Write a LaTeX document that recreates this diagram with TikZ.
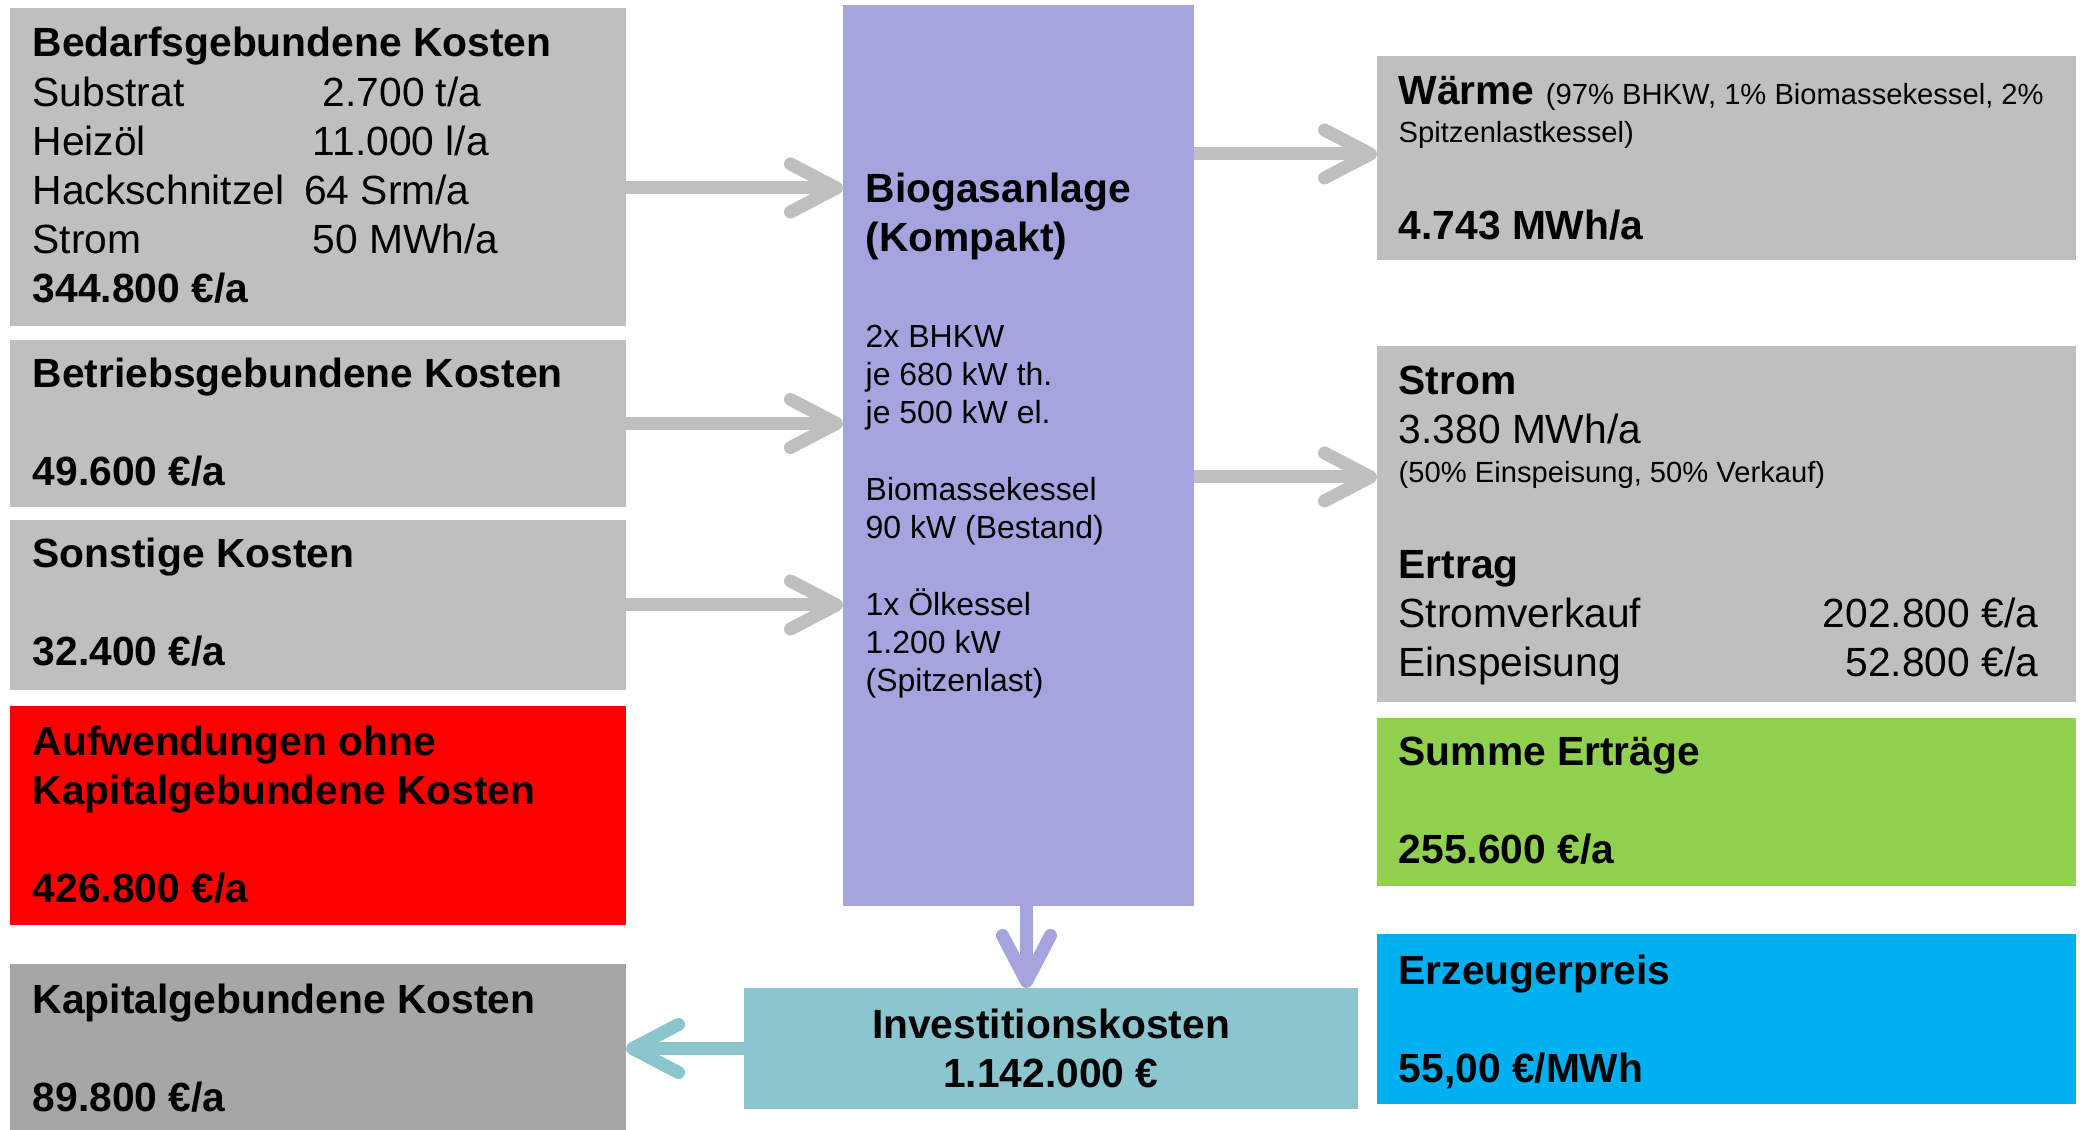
\documentclass[tikz,border=0pt]{standalone}
\usepackage{fontspec}
\setmainfont{Liberation Sans}
\usetikzlibrary{arrows.meta}

\definecolor{boxgray}{RGB}{191,191,191}
\definecolor{capgray}{RGB}{166,166,166}
\definecolor{biolila}{RGB}{164,164,222}
\definecolor{invteal}{RGB}{139,198,206}
\definecolor{sumgreen}{RGB}{146,208,80}
\definecolor{pricecyan}{RGB}{0,176,240}
\newcommand\mainsize{\fontsize{11.6}{14}\selectfont}
\newcommand\detailsize{\fontsize{9.1}{10.9}\selectfont}
\newcommand\notesize{\fontsize{8.3}{10.8}\selectfont}

\begin{document}
\begin{tikzpicture}
	[box/.style={rectangle,inner sep=0pt,outer sep=0pt,anchor=north west},
	txt/.style={inner sep=0pt,anchor=base west,align=left,font=\mainsize},
	flow/.style={line width=1.3mm,draw=boxgray,-{Straight Barb[length=4.6mm,width=4.8mm,round]}}]
	\useasboundingbox (0,0) rectangle (20.8,-11.3);
	% cost boxes on the left (text nodes sit on their last baseline)
	\node (bedarf) [box,fill=boxgray,minimum width=6.16cm,minimum height=3.18cm] at (0.10,-0.08) {};
	\node (betrieb) [box,fill=boxgray,minimum width=6.16cm,minimum height=1.67cm] at (0.10,-3.40) {};
	\node (sonstige) [box,fill=boxgray,minimum width=6.16cm,minimum height=1.70cm] at (0.10,-5.20) {};
	\node (aufwand) [box,fill=red,minimum width=6.16cm,minimum height=2.19cm] at (0.10,-7.06) {};
	\node (kapital) [box,fill=capgray,minimum width=6.16cm,minimum height=1.66cm] at (0.10,-9.64) {};
	\node (bedarf-t) [txt] at (0.32,-3.03) {\textbf{Bedarfsgebundene Kosten}\\
		\makebox[2.90cm][l]{Substrat}2.700 t/a\\
		\makebox[2.80cm][l]{Heizöl}11.000 l/a\\
		Hackschnitzel\hspace{0.2cm}64 Srm/a\\
		\makebox[2.80cm][l]{Strom}50 MWh/a\\
		\textbf{344.800 €/a}};
	\node (betrieb-t) [txt,font=\mainsize\bfseries] at (0.32,-4.86) {Betriebsgebundene Kosten\\[14pt]49.600 €/a};
	\node (sonstige-t) [txt,font=\mainsize\bfseries] at (0.32,-6.66) {Sonstige Kosten\\[14pt]32.400 €/a};
	\node (aufwand-t) [txt,font=\mainsize\bfseries] at (0.32,-9.03) {Aufwendungen ohne\\Kapitalgebundene Kosten\\[14pt]426.800 €/a};
	\node (kapital-t) [txt,font=\mainsize\bfseries] at (0.32,-11.12) {Kapitalgebundene Kosten\\[14pt]89.800 €/a};
	% plant in the middle
	\node (bio) [box,fill=biolila,minimum width=3.51cm,minimum height=9.01cm] at (8.43,-0.05) {};
	\node (bio-t) [txt,font=\mainsize\bfseries] at (8.65,-2.52) {Biogasanlage\\(Kompakt)};
	\node (bio-d) [txt,font=\detailsize] at (8.65,-6.92) {2x BHKW\\je 680 kW th.\\je 500 kW el.\\[10.9pt]
		Biomassekessel\\90 kW (Bestand)\\[10.9pt]1x Ölkessel\\1.200 kW\\(Spitzenlast)};
	\node (invest) [box,fill=invteal,minimum width=6.14cm,minimum height=1.21cm,align=center,font=\mainsize\bfseries] at (7.44,-9.88) {Investitionskosten\\1.142.000 €};
	% results on the right
	\node (waerme) [box,fill=boxgray,minimum width=6.99cm,minimum height=2.04cm] at (13.77,-0.56) {};
	\node (strom) [box,fill=boxgray,minimum width=6.99cm,minimum height=3.56cm] at (13.77,-3.46) {};
	\node (summe) [box,fill=sumgreen,minimum width=6.99cm,minimum height=1.68cm] at (13.77,-7.18) {};
	\node (preis) [box,fill=pricecyan,minimum width=6.99cm,minimum height=1.70cm] at (13.77,-9.34) {};
	\node (waerme-t) [txt] at (13.98,-1.05) {\textbf{Wärme} {\notesize(97\% BHKW, 1\% Biomassekessel, 2\%}};
	\node (waerme-n) [txt,font=\notesize] at (13.98,-1.43) {Spitzenlastkessel)};
	\node (waerme-v) [txt,font=\mainsize\bfseries] at (13.98,-2.40) {4.743 MWh/a};
	\node (strom-t) [txt] at (13.98,-4.44) {\textbf{Strom}\\3.380 MWh/a};
	\node (strom-n) [txt,font=\notesize] at (13.98,-4.83) {(50\% Einspeisung, 50\% Verkauf)};
	\node (ertrag-t) [txt] at (13.98,-6.77) {\textbf{Ertrag}\\Stromverkauf\\Einspeisung};
	\node (ertrag-v) [txt,anchor=base east,align=right] at (20.39,-6.77) {202.800 €/a\\52.800 €/a};
	\node (summe-t) [txt,font=\mainsize\bfseries] at (13.98,-8.64) {Summe Erträge\\[14pt]255.600 €/a};
	\node (preis-t) [txt,font=\mainsize\bfseries] at (13.98,-10.83) {Erzeugerpreis\\[14pt]55,00 €/MWh};
	% arrows
	\draw [flow] ([yshift=-2.1mm]bedarf.east) -- ([yshift=-2.1mm]bedarf.east -| bio.west);
	\draw [flow] (betrieb.east) -- (betrieb.east -| bio.west);
	\draw [flow] (sonstige.east) -- (sonstige.east -| bio.west);
	\draw [flow] ([yshift=0.4mm]waerme.west -| bio.east) -- ([yshift=0.4mm]waerme.west);
	\draw [flow] ([yshift=4.7mm]strom.west -| bio.east) -- ([yshift=4.7mm]strom.west);
	\draw [flow,draw=biolila] ([xshift=0.8mm]bio.south) -- ([xshift=0.8mm]bio.south |- invest.north);
	\draw [flow,draw=invteal] (invest.west) -- (invest.west -| kapital.east);
\end{tikzpicture}
\end{document}
